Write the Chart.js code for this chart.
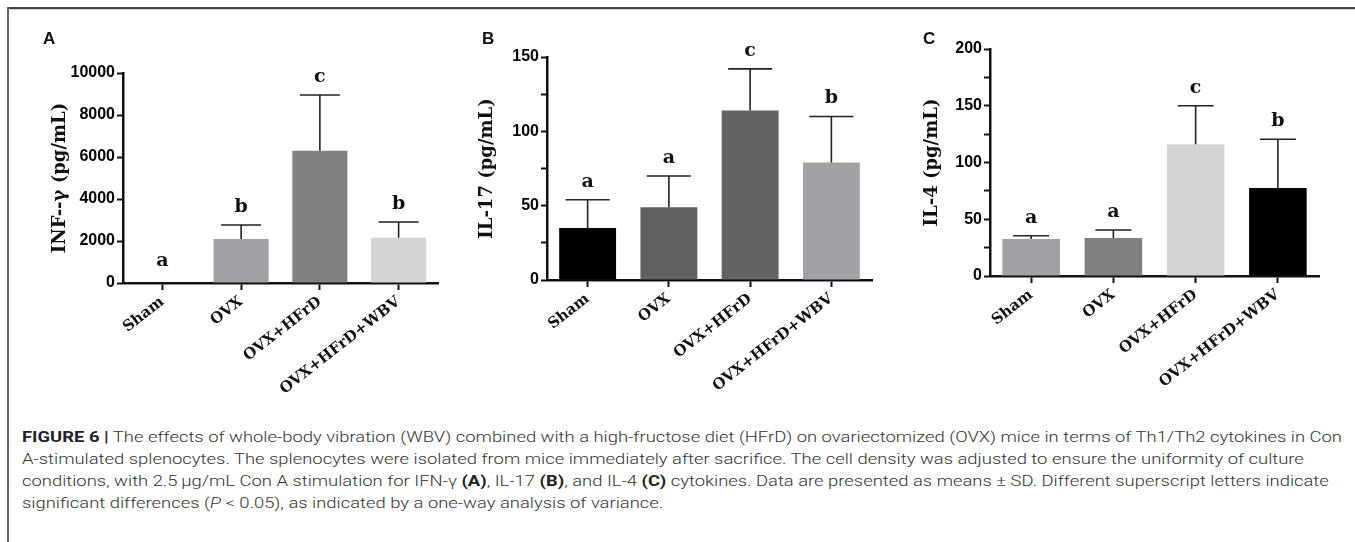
<!DOCTYPE html>
<html><head><meta charset="utf-8">
<script src="https://cdn.jsdelivr.net/npm/chart.js@4.4.0/dist/chart.umd.min.js"></script>
<style>
html,body{margin:0;padding:0;background:#fff;}
#wrap{position:relative;width:1355px;height:542px;overflow:hidden;background:#fff;}
.frameTop{position:absolute;left:7px;top:7px;width:1348px;height:2px;background:#444;}
.frameTop2{position:absolute;left:7px;top:9px;width:1348px;height:1px;background:#cfcfcf;}
.frameLeft{position:absolute;left:7px;top:7px;width:2px;height:535px;background:#666;}
canvas{position:absolute;top:0;}
.plabel{position:absolute;font:bold 17px "Liberation Sans",Arial,sans-serif;color:#111;line-height:1;}
.cap{position:absolute;left:22px;font-family:Roboto,"Liberation Sans",sans-serif;font-weight:300;font-size:15.5px;color:#333;white-space:nowrap;transform-origin:0 50%;line-height:1;}
.cap b{font-weight:bold;color:#222;}
</style></head>
<body>
<div id="wrap">
  <div class="frameTop"></div><div class="frameTop2"></div><div class="frameLeft"></div>
  <canvas id="cA" width="450" height="420" style="left:0px"></canvas>
  <canvas id="cB" width="440" height="420" style="left:450px"></canvas>
  <canvas id="cC" width="465" height="420" style="left:890px"></canvas>
  <div class="plabel" style="left:43px;top:30px">A</div>
  <div class="plabel" style="left:482px;top:30px">B</div>
  <div class="plabel" style="left:923px;top:30px">C</div>
  <div class="cap" style="top:430px"><b>FIGURE 6 |</b> The effects of whole-body vibration (WBV) combined with a high-fructose diet (HFrD) on ovariectomized (OVX) mice in terms of Th1/Th2 cytokines in Con</div>
  <div class="cap" style="top:452px">A-stimulated splenocytes. The splenocytes were isolated from mice immediately after sacrifice. The cell density was adjusted to ensure the uniformity of culture</div>
  <div class="cap" style="top:474px">conditions, with 2.5&#8201;μg/mL Con A stimulation for IFN-γ <b>(A)</b>, IL-17 <b>(B)</b>, and IL-4 <b>(C)</b> cytokines. Data are presented as means ± SD. Different superscript letters indicate</div>
  <div class="cap" style="top:496px">significant differences (<i>P</i> &lt; 0.05), as indicated by a one-way analysis of variance.</div>
</div>
<script>
// ---- data ----
const categories = ['Sham', 'OVX', 'OVX+HFrD', 'OVX+HFrD+WBV'];

const ifnMean = [0, 2100, 6300, 2150];
const ifnSD = [0, 660, 2650, 755];
const ifnLetters = ['a', 'b', 'c', 'b'];
const ifnColors = ['#a0a0a6', '#a0a0a6', '#808080', '#d4d4d4'];
const ifnTicks = [0, 2000, 4000, 6000, 8000, 10000];

const il17Mean = [35, 49, 114, 79];
const il17SD = [19, 21, 28, 31];
const il17Letters = ['a', 'a', 'c', 'b'];
const il17Colors = ['#000000', '#606060', '#636363', '#a1a1a6'];
const il17Ticks = [0, 50, 100, 150];

const il4Mean = [32.5, 33.5, 116, 77.5];
const il4SD = [3, 7, 34, 43];
const il4Letters = ['a', 'a', 'c', 'b'];
const il4Colors = ['#a0a0a6', '#808080', '#d4d4d4', '#000000'];
const il4Ticks = [0, 50, 100, 150, 200];

// ---- plugin: error bars (upper whisker) + significance letters ----
const errPlugin = {
  id: 'errLetters',
  afterDatasetsDraw(chart, args, o) {
    const ctx = chart.ctx, y = chart.scales.y;
    const meta = chart.getDatasetMeta(0);
    const means = chart.data.datasets[0].data;
    ctx.save();
    meta.data.forEach((bar, i) => {
      const cx = bar.x;
      const yb = y.getPixelForValue(means[i]);
      const yt = y.getPixelForValue(means[i] + o.sd[i]);
      if (o.sd[i] > 0) {
        ctx.strokeStyle = '#222'; ctx.lineWidth = 1.6;
        ctx.beginPath();
        ctx.moveTo(cx, yb); ctx.lineTo(cx, yt);
        ctx.moveTo(cx - o.cap / 2, yt); ctx.lineTo(cx + o.cap / 2, yt);
        ctx.stroke();
      }
      ctx.fillStyle = '#111';
      ctx.font = 'bold 19px "DejaVu Serif"';
      ctx.textAlign = 'center'; ctx.textBaseline = 'middle';
      ctx.fillText(o.letters[i], cx, yt - (o.sd[i] > 0 ? 18 : 22));
    });
    ctx.restore();
  }
};

function makePanel(id, cfg) {
  const major = cfg.ticks[1] - cfg.ticks[0];
  const yMax = cfg.ticks[cfg.ticks.length - 1];
  return new Chart(document.getElementById(id), {
    type: 'bar',
    data: {
      labels: categories,
      datasets: [{ data: cfg.mean, backgroundColor: cfg.colors, borderWidth: 0,
                   barPercentage: 0.7, categoryPercentage: 1.0 }]
    },
    plugins: [errPlugin],
    options: {
      responsive: false, animation: false, devicePixelRatio: 1,
      layout: { padding: cfg.pad },
      plugins: {
        legend: { display: false }, tooltip: { enabled: false },
        errLetters: { sd: cfg.sd, letters: cfg.letters, cap: cfg.cap }
      },
      scales: {
        x: {
          offset: true, z: 1,
          grid: { display: true, drawOnChartArea: false, drawTicks: true, tickLength: 7, tickWidth: 2, tickColor: '#111', offset: false },
          border: { display: true, width: 2.5, color: '#111' },
          ticks: { autoSkip: false, minRotation: 38, maxRotation: 38, padding: 3, color: '#111',
                   font: { family: 'DejaVu Serif', weight: 'bold', size: 15 } },
          afterFit(s) { s.height = cfg.xH; }
        },
        y: {
          min: 0, max: yMax, z: 1,
          grid: { display: true, drawOnChartArea: false, drawTicks: true, tickLength: 6, tickWidth: 2, tickColor: '#111' },
          border: { display: true, width: 2.5, color: '#111' },
          ticks: { stepSize: major / 2, padding: 2, color: '#000',
                   font: { family: 'Liberation Sans', weight: 'bold', size: 16 },
                   callback: (v) => (cfg.ticks.includes(v) ? String(v) : '') },
          title: { display: true, text: cfg.title, color: '#111',
                   font: { family: 'DejaVu Serif', weight: 'bold', size: 18 },
                   padding: { top: cfg.tpad, bottom: 0 } },
          afterFit(s) { s.width = cfg.yW; }
        }
      }
    }
  });
}

makePanel('cA', { mean: ifnMean, sd: ifnSD, letters: ifnLetters, colors: ifnColors, ticks: ifnTicks,
  title: 'INF--γ (pg/mL)', pad: { left: 0, top: 73, right: 12, bottom: 0 }, yW: 123, xH: 137, tpad: 50, cap: 40 });
makePanel('cB', { mean: il17Mean, sd: il17SD, letters: il17Letters, colors: il17Colors, ticks: il17Ticks,
  title: 'IL-17 (pg/mL)', pad: { left: 0, top: 57, right: 18, bottom: 0 }, yW: 97, xH: 140, tpad: 27, cap: 44 });
makePanel('cC', { mean: il4Mean, sd: il4SD, letters: il4Letters, colors: il4Colors, ticks: il4Ticks,
  title: 'IL-4 (pg/mL)', pad: { left: 0, top: 49, right: 36, bottom: 0 }, yW: 100, xH: 144, tpad: 32, cap: 36 });

// fit caption width (line 1 ends ~x=1342)
(function () {
  const caps = document.querySelectorAll('.cap');
  const w = caps[0].getBoundingClientRect().width;
  const s = (1342 - 22) / w;
  caps.forEach(c => { c.style.transform = 'scaleX(' + s + ')'; });
})();
</script>
</body></html>
